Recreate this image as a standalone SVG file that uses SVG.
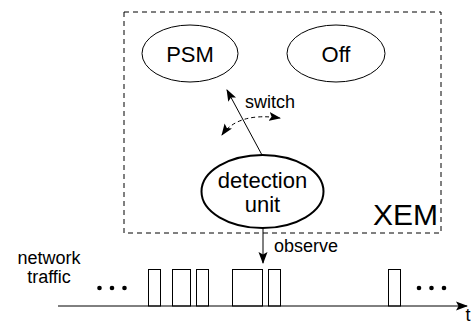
<svg xmlns="http://www.w3.org/2000/svg" width="473" height="325" viewBox="0 0 473 325">
<style>
text{font-family:"Liberation Sans",Arial,sans-serif;fill:#000}
.n{fill:#fff;stroke:#000;stroke-width:1}
.l{fill:none;stroke:#000;stroke-width:1}
</style>
<defs>
<marker id="ah" viewBox="0 0 12 10" refX="11" refY="5" markerWidth="12" markerHeight="10" markerUnits="userSpaceOnUse" orient="auto-start-reverse">
<path d="M0,0.5 L12,5 L0,9.5 L2.5,5 Z" fill="#000"/>
</marker>
</defs>
<rect width="473" height="325" fill="#fff"/>
<g id="xem">
<rect x="124" y="12" width="317" height="221" fill="none" stroke="#000" stroke-width="1" stroke-dasharray="5,4"/>
<text x="438" y="225" font-size="30" text-anchor="end">XEM</text>
</g>
<g id="psm">
<ellipse class="n" cx="190" cy="53.5" rx="48" ry="28.5"/>
<text x="190" y="62" font-size="22" text-anchor="middle">PSM</text>
</g>
<g id="off">
<ellipse class="n" cx="336" cy="53.5" rx="49" ry="28.5"/>
<text x="336" y="62" font-size="22" text-anchor="middle">Off</text>
</g>
<g id="detection">
<ellipse cx="262.5" cy="191.5" rx="61" ry="36.5" fill="#fff" stroke="#000" stroke-width="2"/>
<text x="262.5" y="188" font-size="22" text-anchor="middle">detection</text>
<text x="262.5" y="211.5" font-size="22" text-anchor="middle">unit</text>
</g>
<g id="traffic">
<text x="49" y="264" font-size="18" text-anchor="middle">network</text>
<text x="49" y="283" font-size="18" text-anchor="middle">traffic</text>
<g fill="#000">
<circle cx="99.5" cy="288" r="2.3"/><circle cx="112" cy="288" r="2.3"/><circle cx="124.5" cy="288" r="2.3"/>
<circle cx="419" cy="288" r="2.3"/><circle cx="431.5" cy="288" r="2.3"/><circle cx="444" cy="288" r="2.3"/>
</g>
<g class="l">
<rect x="148.5" y="269.5" width="12" height="36.5"/>
<rect x="172.5" y="269.5" width="18" height="36.5"/>
<rect x="196.5" y="269.5" width="12" height="36.5"/>
<rect x="232.5" y="269.5" width="30" height="36.5"/>
<rect x="268.5" y="269.5" width="12" height="36.5"/>
<rect x="388.5" y="269.5" width="12" height="36.5"/>
</g>
<text x="468" y="321" font-size="18" text-anchor="middle">t</text>
</g>
<g id="connectors">
<line class="l" x1="58" y1="306" x2="467" y2="306" marker-end="url(#ah)"/>
<line class="l" x1="262" y1="155" x2="227" y2="90" marker-end="url(#ah)"/>
<text x="245" y="108" font-size="18">switch</text>
<path class="l" d="M222,135 Q238,112 280,118" stroke-dasharray="4,3" marker-start="url(#ah)" marker-end="url(#ah)"/>
<line class="l" x1="263" y1="228" x2="263" y2="263" marker-end="url(#ah)"/>
<text x="274" y="252" font-size="18">observe</text>
</g>
</svg>
